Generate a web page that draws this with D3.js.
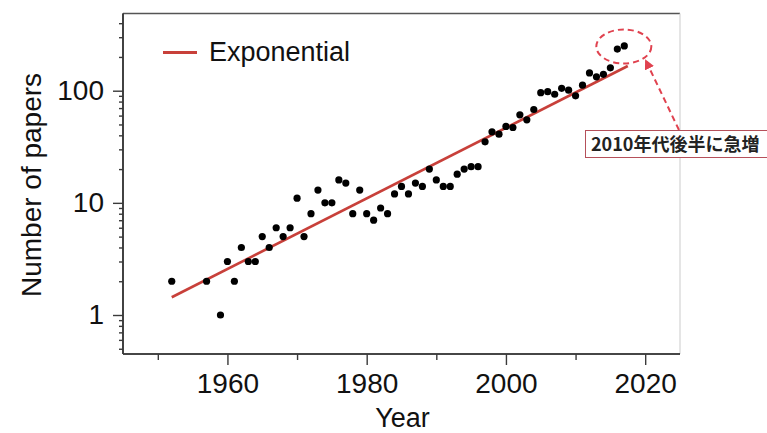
<!DOCTYPE html>
<html>
<head>
<meta charset="utf-8">
<script src="https://cdn.jsdelivr.net/npm/d3@7/dist/d3.min.js"></script>
<style>
  html, body { margin: 0; padding: 0; background: #fff; }
  svg { display: block; }
  text { font-family: "Liberation Sans", Arial, Helvetica, sans-serif; }
</style>
</head>
<body>
<script>
// ---- data ----
const years = [1952, 1957, 1959, 1960, 1961, 1962, 1963, 1964, 1965, 1966, 1967, 1968, 1969,
  1970, 1971, 1972, 1973, 1974, 1975, 1976, 1977, 1978, 1979, 1980, 1981, 1982, 1983, 1984,
  1985, 1986, 1987, 1988, 1989, 1990, 1991, 1992, 1993, 1994, 1995, 1996, 1997, 1998, 1999,
  2000, 2001, 2002, 2003, 2004, 2005, 2006, 2007, 2008, 2009, 2010, 2011, 2012, 2013, 2014,
  2015, 2016, 2017];
const papers = [2, 2, 1, 3, 2, 4, 3, 3, 5, 4, 6, 5, 6,
  11, 5, 8, 13, 10, 10, 16, 15, 8, 13, 8, 7, 9, 8, 12,
  14, 12, 15, 14, 20, 16, 14, 14, 18, 20, 21, 21, 35, 43, 41,
  48, 47, 61, 55, 68, 96, 98, 93, 105, 101, 90, 112, 144, 133, 140,
  160, 235, 251];
const fitYears = [1952, 2017.5];
const fitValues = [1.44, 166];
const xMajorTicks = [1960, 1980, 2000, 2020];
const xMinorTicks = [1950, 1970, 1990, 2010];
const yMajorTicks = [1, 10, 100];
const yMinorTicks = [0.5, 0.6, 0.7, 0.8, 0.9, 2, 3, 4, 5, 6, 7, 8, 9,
  20, 30, 40, 50, 60, 70, 80, 90, 200, 300, 400];
const legendLabel = "Exponential";
const xTitle = "Year";
const yTitle = "Number of papers";
const noteText = "2010年代後半に急増";

// ---- layout ----
const W = 767, H = 433;
const L = 123, R = 680, T = 13.5, B = 354;

const svg = d3.select("body").append("svg").attr("width", W).attr("height", H);

const x = d3.scaleLinear().domain([1945, 2025]).range([L, R]);
const y = d3.scaleLog().domain([0.449, 488]).range([B, T]);

const axisColor = "#3a3a3a";
const red = "#c8403a";
const fontSize = 28;

// frame: top and right
svg.append("line").attr("x1", L).attr("x2", R).attr("y1", T).attr("y2", T)
  .attr("stroke", "#555").attr("stroke-width", 1.6);
svg.append("line").attr("x1", R).attr("x2", R).attr("y1", T).attr("y2", B)
  .attr("stroke", "#d4d4d4").attr("stroke-width", 1.2);

// x axis
const gxMin = svg.append("g").attr("transform", `translate(0,${B})`)
  .call(d3.axisBottom(x).tickValues(xMinorTicks).tickSize(6).tickFormat(""));
const gx = svg.append("g").attr("transform", `translate(0,${B})`)
  .call(d3.axisBottom(x).tickValues(xMajorTicks).tickSize(11).tickPadding(8).tickFormat(d3.format("d")));
gx.selectAll("text").attr("font-size", fontSize).attr("fill", "#111")
  .style("font-family", '"Liberation Sans", Arial, sans-serif');

// y axis
const gyMin = svg.append("g").attr("transform", `translate(${L},0)`)
  .call(d3.axisLeft(y).tickValues(yMinorTicks).tickSize(4).tickFormat(""));
const gy = svg.append("g").attr("transform", `translate(${L},0)`)
  .call(d3.axisLeft(y).tickValues(yMajorTicks).tickSize(10).tickPadding(9).tickFormat(d3.format("d")));
gy.selectAll("text").attr("font-size", fontSize).attr("fill", "#111")
  .style("font-family", '"Liberation Sans", Arial, sans-serif');

[gxMin, gx, gyMin, gy].forEach(g => {
  g.selectAll(".domain").attr("stroke", axisColor).attr("stroke-width", 1.6);
  g.selectAll(".tick line").attr("stroke", axisColor).attr("stroke-width", 1.4);
});
gxMin.select(".domain").attr("d", `M${L},0H${R}`);
gx.select(".domain").attr("d", `M${L},0H${R}`);
gyMin.select(".domain").attr("d", `M0,${T}V${B}`);
gy.select(".domain").attr("d", `M0,${T}V${B}`);

// axis titles
svg.append("text").attr("x", (L + R) / 2 + 1).attr("y", 427)
  .attr("text-anchor", "middle").attr("font-size", 27).attr("fill", "#111").text(xTitle);
svg.append("text").attr("transform", `translate(41,185) rotate(-90)`)
  .attr("text-anchor", "middle").attr("font-size", 28).attr("fill", "#111").text(yTitle);

// fit line
const fitData = fitYears.map((yr, i) => ({ yr, v: fitValues[i] }));
svg.append("path").datum(fitData)
  .attr("d", d3.line().x(d => x(d.yr)).y(d => y(d.v)))
  .attr("fill", "none").attr("stroke", red).attr("stroke-width", 2.6);

// points
const pts = years.map((yr, i) => ({ yr, v: papers[i] }));
svg.append("g").selectAll("circle").data(pts).join("circle")
  .attr("cx", d => x(d.yr)).attr("cy", d => y(d.v)).attr("r", 3.6).attr("fill", "#000");

// legend
svg.append("line").attr("x1", 163).attr("x2", 197).attr("y1", 52.5).attr("y2", 52.5)
  .attr("stroke", red).attr("stroke-width", 2.8);
svg.append("text").attr("x", 209).attr("y", 61).attr("font-size", 27).attr("fill", "#111").text(legendLabel);

// annotation
const noteRed = "#e0424f";
const highlight = pts.filter(d => d.yr >= 2016);
const cx = d3.mean(highlight, d => x(d.yr)) + 3;
const cy = d3.mean(highlight, d => y(d.v)) - 1;
svg.append("ellipse").attr("cx", cx).attr("cy", cy).attr("rx", 27.5).attr("ry", 17)
  .attr("fill", "none").attr("stroke", noteRed).attr("stroke-width", 2)
  .attr("stroke-dasharray", "6,4");

const defs = svg.append("defs");
defs.append("marker").attr("id", "ah").attr("viewBox", "0 0 10 10").attr("refX", 8).attr("refY", 5)
  .attr("markerWidth", 5).attr("markerHeight", 5).attr("orient", "auto")
  .append("path").attr("d", "M0,0L10,5L0,10Z").attr("fill", noteRed);
svg.append("line").attr("x1", 679).attr("y1", 130).attr("x2", 646).attr("y2", 61)
  .attr("stroke", noteRed).attr("stroke-width", 2).attr("stroke-dasharray", "6,4")
  .attr("marker-end", "url(#ah)");

svg.append("rect").attr("x", 585.5).attr("y", 130.5).attr("width", 220).attr("height", 27)
  .attr("fill", "#fff").attr("stroke", "#b5505a").attr("stroke-width", 1);
svg.append("text").attr("x", 591).attr("y", 150.5).attr("font-size", 18).attr("font-weight", "bold")
  .attr("fill", "#222").style("font-family", '"Noto Sans CJK JP", "Noto Sans", sans-serif')
  .text(noteText);
</script>
</body>
</html>
